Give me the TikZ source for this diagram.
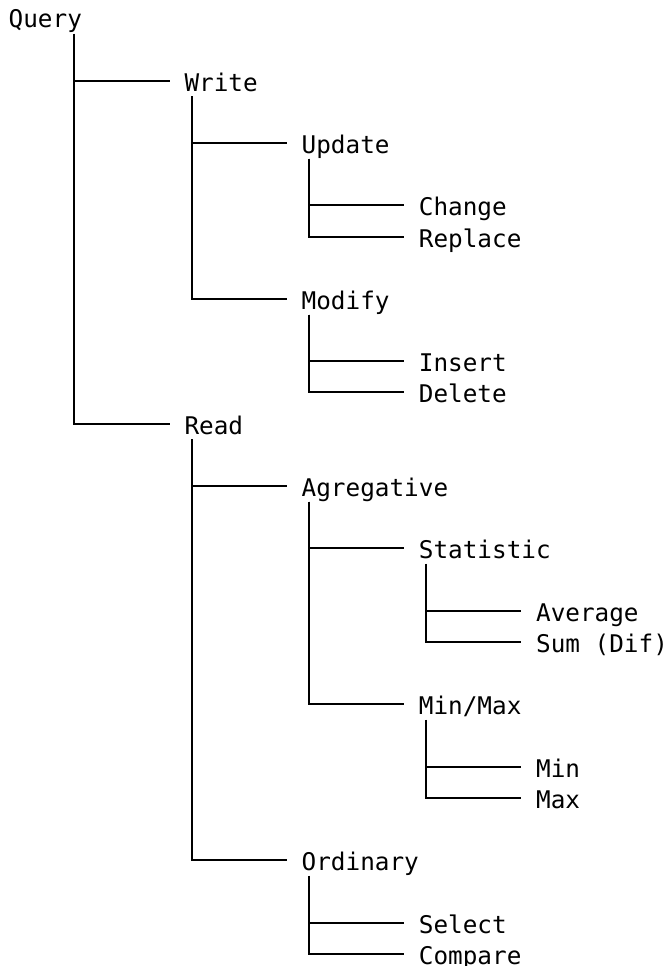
\documentclass[tikz,border=0pt]{standalone}
\usepackage{fontspec}
\newfontfamily\treemono{DejaVu Sans Mono}
\begin{document}
\begin{tikzpicture}[x=1pt,y=-1pt,
  lbl/.style={anchor=west, inner sep=0pt, text height=20pt, text depth=0pt,
              font=\treemono\fontsize{24.33pt}{29pt}\selectfont, text=black},
  branch/.style={line width=2pt, line join=miter, draw=black}]
\useasboundingbox (0,0) rectangle (667,966);
% column x = 8.5 + col*14.65 ; row y = 18.3 + row*31.18 (snapped to pixel edges)
\node[lbl] (query)  at ({8.5+0*14.65},{round(18.3+0*31.18)})  {Query};
\node[lbl] (write)  at ({8.5+12*14.65},{round(18.3+2*31.18)}) {Write};
\node[lbl] (update) at ({8.5+20*14.65},{round(18.3+4*31.18)}) {Update};
\node[lbl] (change) at ({8.5+28*14.65},{round(18.3+6*31.18)}) {Change};
\node[lbl] (replace) at ({8.5+28*14.65},{round(18.3+7*31.18)}) {Replace};
\node[lbl] (modify) at ({8.5+20*14.65},{round(18.3+9*31.18)}) {Modify};
\node[lbl] (insert) at ({8.5+28*14.65},{round(18.3+11*31.18)}) {Insert};
\node[lbl] (delete) at ({8.5+28*14.65},{round(18.3+12*31.18)}) {Delete};
\node[lbl] (read)   at ({8.5+12*14.65},{round(18.3+13*31.18)}) {Read};
\node[lbl] (agreg)  at ({8.5+20*14.65},{round(18.3+15*31.18)}) {Agregative};
\node[lbl] (stat)   at ({8.5+28*14.65},{round(18.3+17*31.18)}) {Statistic};
\node[lbl] (avg)    at ({8.5+36*14.65},{round(18.3+19*31.18)}) {Average};
\node[lbl] (sum)    at ({8.5+36*14.65},{round(18.3+20*31.18)}) {Sum (Dif)};
\node[lbl] (minmax) at ({8.5+28*14.65},{round(18.3+22*31.18)}) {Min/Max};
\node[lbl] (min)    at ({8.5+36*14.65},{round(18.3+24*31.18)}) {Min};
\node[lbl] (max)    at ({8.5+36*14.65},{round(18.3+25*31.18)}) {Max};
\node[lbl] (ord)    at ({8.5+20*14.65},{round(18.3+27*31.18)}) {Ordinary};
\node[lbl] (select) at ({8.5+28*14.65},{round(18.3+29*31.18)}) {Select};
\node[lbl] (compare) at ({8.5+28*14.65},{round(18.3+30*31.18)}) {Compare};
% stems (top of each vertical line, snapped to pixel edges)
\coordinate (query-s)  at ({round(8.5+4.5*14.65)},{18.3+0*31.18+15.6});
\coordinate (write-s)  at ({round(8.5+12.5*14.65)},{18.3+2*31.18+15.6});
\coordinate (update-s) at ({round(8.5+20.5*14.65)},{18.3+4*31.18+15.6});
\coordinate (modify-s) at ({round(8.5+20.5*14.65)},{18.3+9*31.18+15.6});
\coordinate (read-s)   at ({round(8.5+12.5*14.65)},{18.3+13*31.18+15.6});
\coordinate (agreg-s)  at ({round(8.5+20.5*14.65)},{18.3+15*31.18+15.6});
\coordinate (stat-s)   at ({round(8.5+28.5*14.65)},{18.3+17*31.18+15.6});
\coordinate (minmax-s) at ({round(8.5+28.5*14.65)},{18.3+22*31.18+15.6});
\coordinate (ord-s)    at ({round(8.5+20.5*14.65)},{18.3+27*31.18+15.6});
% connectors
\draw[branch] (query-s) |- ([xshift=-14.65pt]write.west);
\draw[branch] (query-s) |- ([xshift=-14.65pt]read.west);
\draw[branch] (write-s) |- ([xshift=-14.65pt]update.west);
\draw[branch] (write-s) |- ([xshift=-14.65pt]modify.west);
\draw[branch] (update-s) |- ([xshift=-14.65pt]change.west);
\draw[branch] (update-s) |- ([xshift=-14.65pt]replace.west);
\draw[branch] (modify-s) |- ([xshift=-14.65pt]insert.west);
\draw[branch] (modify-s) |- ([xshift=-14.65pt]delete.west);
\draw[branch] (read-s) |- ([xshift=-14.65pt]agreg.west);
\draw[branch] (read-s) |- ([xshift=-14.65pt]ord.west);
\draw[branch] (agreg-s) |- ([xshift=-14.65pt]stat.west);
\draw[branch] (agreg-s) |- ([xshift=-14.65pt]minmax.west);
\draw[branch] (stat-s) |- ([xshift=-14.65pt]avg.west);
\draw[branch] (stat-s) |- ([xshift=-14.65pt]sum.west);
\draw[branch] (minmax-s) |- ([xshift=-14.65pt]min.west);
\draw[branch] (minmax-s) |- ([xshift=-14.65pt]max.west);
\draw[branch] (ord-s) |- ([xshift=-14.65pt]select.west);
\draw[branch] (ord-s) |- ([xshift=-14.65pt]compare.west);
\end{tikzpicture}
\end{document}
